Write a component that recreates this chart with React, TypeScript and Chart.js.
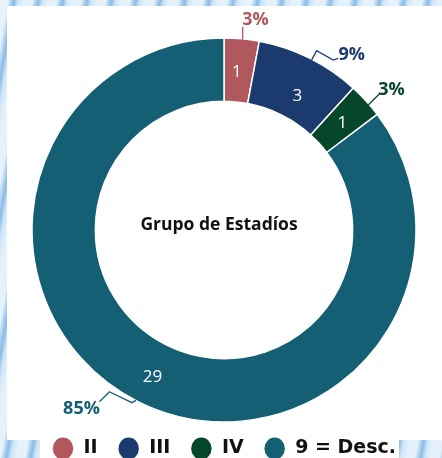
import React, { useEffect, useRef } from "react";
import { Chart, registerables } from "chart.js";

Chart.register(...registerables);

const categories = ["II", "III", "IV", "9 = Desc."];
const counts = [1, 3, 1, 29];
const segmentColors = ["#b0585c", "#1b3b6f", "#06472b", "#155f75"];
const centerTitle = "Grupo de Estadíos";

// leader-line shapes (offsets from the outer edge at each slice's mid angle)
const leaderPaths: number[][][] = [
  [[1, 1], [1, -12]],
  [[2, 2], [7, -7.4], [23.7, 1.9], [28.7, 0.2]],
  [[2.4, 4.3], [14.1, -7.4]],
  [[-2.5, -1.5], [-6.6, 0.8], [-29, -10.2], [-39, -0.2]],
];
const pctTextOffsets: [number, number, CanvasTextAlign][] = [
  [0.5, -13.8, "left"],
  [28.8, 1.9, "left"],
  [12.4, -5.7, "left"],
  [-38.5, 12.1, "right"],
];
// small nudges of the in-slice value labels from the slice centre
const valueNudges: number[][] = [
  [-2, 2],
  [2, 10],
  [0, 1],
  [0, 4],
];

const labelPlugin = {
  id: "donutLabels",
  afterDatasetsDraw(chart: any) {
    const { ctx } = chart;
    const meta = chart.getDatasetMeta(0);
    const data = chart.data.datasets[0].data as number[];
    const total = data.reduce((a, b) => a + b, 0);
    ctx.save();
    meta.data.forEach((arc: any, i: number) => {
      const { x, y, startAngle, endAngle, innerRadius, outerRadius } = arc.getProps(
        ["x", "y", "startAngle", "endAngle", "innerRadius", "outerRadius"],
        true
      );
      const mid = (startAngle + endAngle) / 2;
      const rMid = (innerRadius + outerRadius) / 2;
      // value inside
      ctx.fillStyle = "#ffffff";
      ctx.font = "500 17px 'Open Sans'";
      ctx.textAlign = "center";
      ctx.textBaseline = "middle";
      ctx.fillText(
        String(data[i]),
        x + Math.cos(mid) * rMid + valueNudges[i][0],
        y + Math.sin(mid) * rMid + valueNudges[i][1]
      );
      // leader line
      const ax = x + Math.cos(mid) * outerRadius;
      const ay = y + Math.sin(mid) * outerRadius;
      const col = segmentColors[i];
      ctx.strokeStyle = col;
      ctx.lineWidth = 1.3;
      ctx.beginPath();
      leaderPaths[i].forEach((p, k) => {
        if (k === 0) ctx.moveTo(ax + p[0], ay + p[1]);
        else ctx.lineTo(ax + p[0], ay + p[1]);
      });
      ctx.stroke();
      // percentage
      const [tx, ty, align] = pctTextOffsets[i];
      ctx.fillStyle = col;
      ctx.font = "700 18px 'Open Sans'";
      ctx.textAlign = align;
      ctx.textBaseline = "alphabetic";
      ctx.fillText(Math.round((data[i] / total) * 100) + "%", ax + tx, ay + ty);
    });
    // center title
    const a0 = meta.data[0];
    ctx.fillStyle = "#111111";
    ctx.font = "700 17.5px 'Open Sans'";
    ctx.textAlign = "center";
    ctx.textBaseline = "alphabetic";
    ctx.fillText(centerTitle, a0.x - 5, a0.y);
    ctx.restore();
  },
};

export default function App() {
  const ref = useRef<HTMLCanvasElement | null>(null);
  useEffect(() => {
    if (!ref.current) return;
    const chart = new Chart(ref.current, {
      type: "doughnut",
      data: {
        labels: categories,
        datasets: [
          {
            data: counts,
            backgroundColor: segmentColors,
            borderColor: "#ffffff",
            borderWidth: 1.5,
            clip: false as any,
          },
        ],
      },
      options: {
        responsive: false,
        animation: false,
        radius: 192,
        cutout: "67%",
        layout: { padding: { top: 41, left: 6, right: 0, bottom: 0 } },
        plugins: {
          tooltip: { enabled: false },
          legend: {
            position: "bottom",
            labels: {
              usePointStyle: true,
              pointStyle: "circle",
              pointStyleWidth: 22,
              boxHeight: 16.5,
              padding: 20,
              color: "#111111",
              font: { family: "'DejaVu Sans'", weight: "bold", size: 19 },
            },
          },
        },
      } as any,
      plugins: [labelPlugin],
    });
    return () => chart.destroy();
  }, []);

  const stripes =
    "repeating-linear-gradient(100deg, #e6f2fb 0px, #e6f2fb 8px, #b4d4f0 11px, #8bbbe6 14px, #cfe5f7 18px, #e6f2fb 24px)";
  return (
    <div
      style={{
        position: "absolute",
        left: 0,
        top: 0,
        width: 442,
        height: 458,
        overflow: "hidden",
        background: stripes,
      }}
    >
      <div style={{ position: "absolute", left: 7, top: 6, width: 435, height: 434, background: "#ffffff" }} />
      <div style={{ position: "absolute", left: 40, top: 430, width: 359, height: 28, background: "#ffffff" }} />
      <canvas ref={ref} width={442} height={468} style={{ position: "absolute", left: 0, top: 0 }} />
    </div>
  );
}
